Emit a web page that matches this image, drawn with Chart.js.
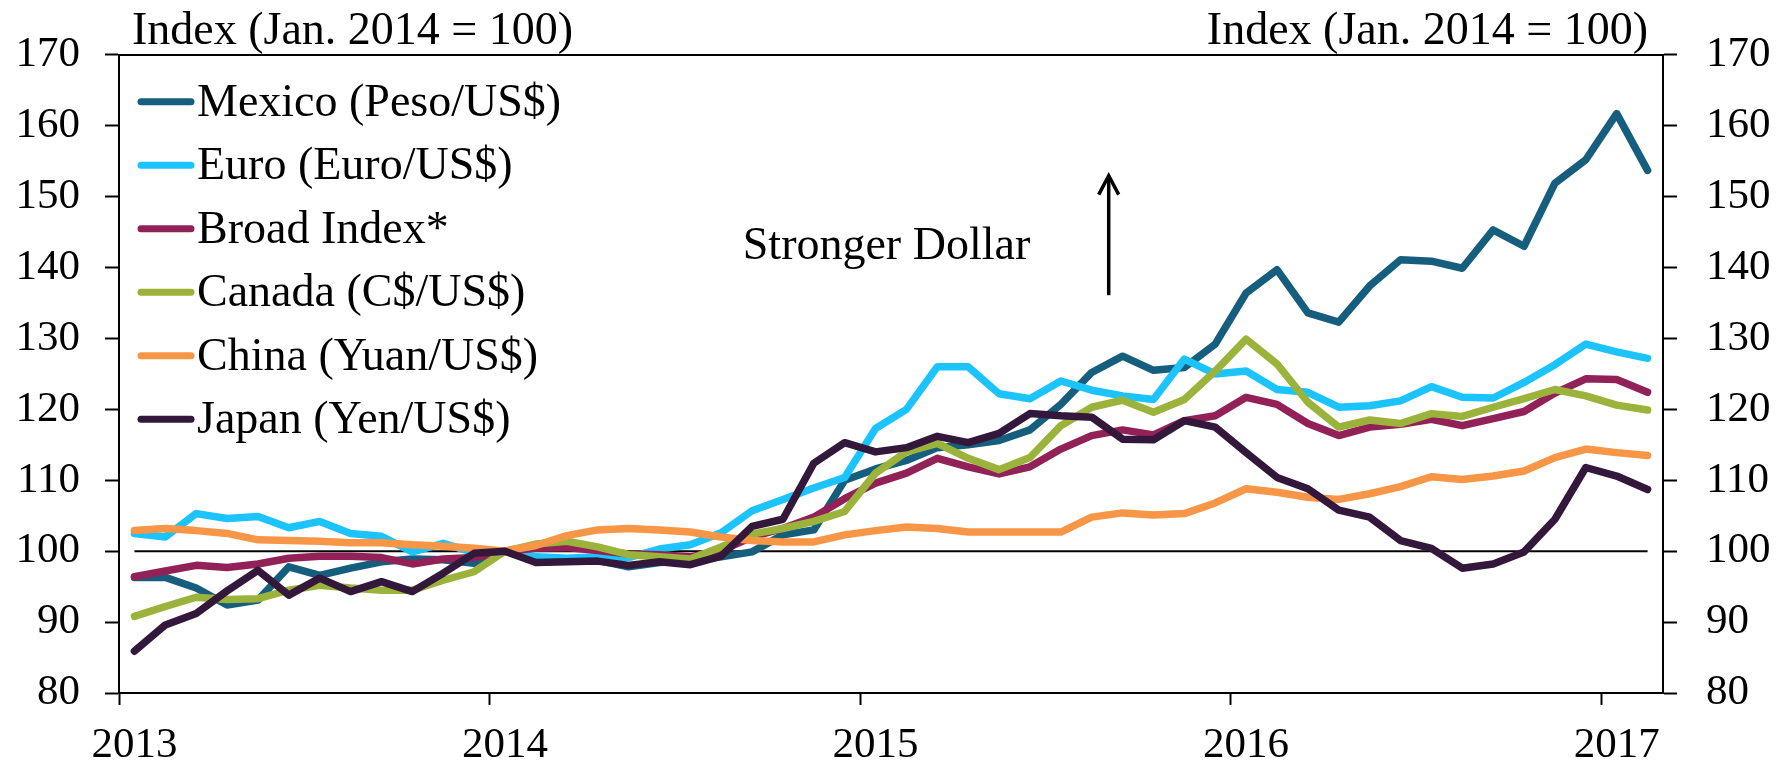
<!DOCTYPE html>
<html>
<head>
<meta charset="utf-8">
<title>Dollar exchange rates</title>
<script src="https://cdn.jsdelivr.net/npm/chart.js@4.4.1/dist/chart.umd.min.js"></script>
<style>
  html, body { margin: 0; padding: 0; background: #fff; }
</style>
</head>
<body>
<canvas id="fxChart" width="1785" height="766"></canvas>
<script>
// Monthly categories, Jan 2013 - Feb 2017
const months = [
  "Jan 2013", "Feb 2013", "Mar 2013", "Apr 2013", "May 2013", "Jun 2013",
  "Jul 2013", "Aug 2013", "Sep 2013", "Oct 2013", "Nov 2013", "Dec 2013",
  "Jan 2014", "Feb 2014", "Mar 2014", "Apr 2014", "May 2014", "Jun 2014",
  "Jul 2014", "Aug 2014", "Sep 2014", "Oct 2014", "Nov 2014", "Dec 2014",
  "Jan 2015", "Feb 2015", "Mar 2015", "Apr 2015", "May 2015", "Jun 2015",
  "Jul 2015", "Aug 2015", "Sep 2015", "Oct 2015", "Nov 2015", "Dec 2015",
  "Jan 2016", "Feb 2016", "Mar 2016", "Apr 2016", "May 2016", "Jun 2016",
  "Jul 2016", "Aug 2016", "Sep 2016", "Oct 2016", "Nov 2016", "Dec 2016",
  "Jan 2017", "Feb 2017"
];

// Index values (Jan. 2014 = 100)
const mexico = [
  96.3, 96.3, 94.8, 92.4, 93.1, 97.8, 96.6, 97.6, 98.5, 98.9, 98.8, 98.3,
  100, 98.7, 98.6, 98.7, 97.8, 98.4, 98.6, 99.2, 99.9, 102.3, 103.0, 110.0,
  111.6, 112.8, 114.6, 115.0, 115.6, 117.1, 120.7, 125.2, 127.5, 125.5, 125.9, 129.2,
  136.4, 139.7, 133.6, 132.3, 137.4, 141.1, 140.9, 139.9, 145.3, 143.0, 151.9, 155.2,
  161.7, 153.7
];
const euro = [
  102.5, 102.0, 105.3, 104.6, 104.9, 103.3, 104.2, 102.5, 102.1, 99.9, 101.1, 99.8,
  100, 99.2, 99.0, 99.2, 99.1, 100.3, 100.9, 102.6, 105.7, 107.3, 108.9, 110.4,
  117.3, 120.0, 126.0, 126.0, 122.2, 121.5, 124.0, 122.7, 121.9, 121.4, 127.1, 125.0,
  125.4, 122.8, 122.4, 120.3, 120.5, 121.2, 123.2, 121.7, 121.6, 123.8, 126.3, 129.2,
  128.1, 127.2
];
const broad = [
  96.4, 97.2, 98.0, 97.7, 98.2, 99.0, 99.3, 99.3, 99.1, 98.2, 98.9, 99.1,
  100, 100.4, 100.5, 100.1, 99.6, 99.5, 99.2, 100.1, 102.0, 103.2, 104.8, 107.4,
  109.6, 111.0, 113.1, 111.9, 110.9, 111.9, 114.4, 116.3, 117.1, 116.4, 118.4, 119.1,
  121.7, 120.7, 118.0, 116.3, 117.5, 117.9, 118.6, 117.7, 118.7, 119.7, 122.3, 124.3,
  124.2, 122.4
];
const canada = [
  90.8, 92.2, 93.5, 93.2, 93.3, 94.5, 95.2, 94.8, 94.5, 94.5, 95.9, 97.1,
  100, 101.0, 101.4, 100.6, 99.5, 99.2, 98.9, 100.6, 102.4, 103.2, 104.2, 105.6,
  111.0, 114.0, 115.2, 113.1, 111.5, 113.2, 117.7, 120.3, 121.3, 119.6, 121.4, 125.4,
  129.9, 126.4, 121.0, 117.5, 118.5, 118.0, 119.4, 119.0, 120.3, 121.5, 122.8, 121.9,
  120.6, 119.9
];
const china = [
  102.9, 103.2, 102.9, 102.5, 101.6, 101.5, 101.4, 101.2, 101.2, 100.9, 100.7, 100.4,
  100, 100.8, 102.2, 103.0, 103.2, 103.0, 102.7, 102.0, 101.5, 101.3, 101.3, 102.3,
  102.9, 103.4, 103.2, 102.7, 102.7, 102.7, 102.7, 104.8, 105.4, 105.1, 105.3, 106.8,
  108.8, 108.3, 107.6, 107.3, 108.1, 109.1, 110.5, 110.1, 110.6, 111.3, 113.2, 114.4,
  113.9, 113.5
];
const japan = [
  85.9, 89.6, 91.2, 94.4, 97.3, 93.8, 96.2, 94.3, 95.7, 94.3, 96.9, 99.7,
  100, 98.4, 98.5, 98.6, 98.0, 98.5, 98.1, 99.3, 103.5, 104.5, 112.4, 115.3,
  114.0, 114.6, 116.2, 115.3, 116.6, 119.4, 119.1, 118.9, 115.8, 115.7, 118.4, 117.5,
  113.9, 110.4, 108.8, 105.8, 104.8, 101.5, 100.4, 97.6, 98.2, 99.9, 104.5, 111.8,
  110.6, 108.7
];

const yTicks = [80, 90, 100, 110, 120, 130, 140, 150, 160, 170];
const baseValue = 100;
const axisTitle = "Index (Jan. 2014 = 100)";
const noteText = "Stronger Dollar";

const FONT = "'Liberation Serif', 'Times New Roman', serif";

const seriesList = [
  { label: "Mexico (Peso/US$)", data: mexico, color: "#165E7E" },
  { label: "Euro (Euro/US$)", data: euro, color: "#1BC3FF" },
  { label: "Broad Index*", data: broad, color: "#912157" },
  { label: "Canada (C$/US$)", data: canada, color: "#9BB33B" },
  { label: "China (Yuan/US$)", data: china, color: "#F79646" },
  { label: "Japan (Yen/US$)", data: japan, color: "#33183C" },
];

// Horizontal reference line at 100, from first to last month
const baselinePlugin = {
  id: "baseline",
  beforeDatasetsDraw(chart) {
    const { ctx, scales } = chart;
    const y = scales.y.getPixelForValue(baseValue);
    ctx.save();
    ctx.strokeStyle = "#000";
    ctx.lineWidth = 2;
    ctx.beginPath();
    ctx.moveTo(scales.x.getPixelForValue(0), y);
    ctx.lineTo(scales.x.getPixelForValue(months.length - 1), y);
    ctx.stroke();
    ctx.restore();
  },
};

// Axis titles, annotation and arrow
const textPlugin = {
  id: "texts",
  afterDraw(chart) {
    const { ctx, chartArea, scales } = chart;
    ctx.save();
    ctx.fillStyle = "#000";
    ctx.font = "46px " + FONT;
    ctx.textBaseline = "alphabetic";

    ctx.textAlign = "left";
    ctx.fillText(axisTitle, chartArea.left + 13, chartArea.top - 11);
    ctx.textAlign = "right";
    ctx.fillText(axisTitle, chartArea.right - 15, chartArea.top - 11);

    ctx.textAlign = "left";
    ctx.fillText(noteText, scales.x.getPixelForValue(19.7), scales.y.getPixelForValue(141.2));

    // arrow pointing up
    const ax = scales.x.getPixelForValue(31.55);
    const top = scales.y.getPixelForValue(153.1);
    const bottom = scales.y.getPixelForValue(136.1);
    ctx.strokeStyle = "#000";
    ctx.lineWidth = 3.5;
    ctx.beginPath();
    ctx.moveTo(ax, bottom);
    ctx.lineTo(ax, top + 1);
    ctx.stroke();
    ctx.beginPath();
    ctx.moveTo(ax - 10, top + 20);
    ctx.lineTo(ax, top + 1);
    ctx.lineTo(ax + 10, top + 20);
    ctx.stroke();
    ctx.restore();
  },
};

// Legend inside the plot, top-left
const legendPlugin = {
  id: "insideLegend",
  afterDraw(chart) {
    const { ctx, chartArea } = chart;
    ctx.save();
    ctx.font = "46px " + FONT;
    ctx.textAlign = "left";
    ctx.textBaseline = "alphabetic";
    chart.data.datasets.forEach((ds, i) => {
      const y = chartArea.top + 47 + i * 63.5;
      ctx.strokeStyle = ds.borderColor;
      ctx.lineWidth = 7;
      ctx.lineCap = "round";
      ctx.beginPath();
      ctx.moveTo(chartArea.left + 22, y);
      ctx.lineTo(chartArea.left + 72, y);
      ctx.stroke();
      ctx.fillStyle = "#000";
      ctx.fillText(ds.label, chartArea.left + 78, y + 14);
    });
    ctx.restore();
  },
};

const yAxisBase = (position, width, pad) => ({
  position: position,
  min: 80,
  max: 170,
  afterBuildTicks: (scale) => {
    scale.ticks = yTicks.map((v) => ({ value: v }));
  },
  grid: {
    drawOnChartArea: false,
    tickLength: 14,
    tickWidth: 2,
    tickColor: "#000",
  },
  border: { display: true, color: "#000", width: 2 },
  ticks: {
    color: "#000",
    font: { family: FONT, size: 43 },
    padding: pad,
  },
  afterFit: (scale) => {
    scale.width = width;
  },
});

const fxChart = new Chart(document.getElementById("fxChart"), {
  type: "line",
  data: {
    labels: months,
    datasets: seriesList.map((s, i) => ({
      label: s.label,
      data: s.data,
      borderColor: s.color,
      backgroundColor: s.color,
      order: seriesList.length - 1 - i,
      xAxisID: "x",
      yAxisID: "y",
    })),
  },
  options: {
    responsive: false,
    animation: false,
    layout: { padding: 0 },
    elements: {
      point: { radius: 0, hoverRadius: 0 },
      line: {
        tension: 0,
        borderWidth: 7.5,
        borderCapStyle: "round",
        borderJoinStyle: "round",
        fill: false,
      },
    },
    plugins: {
      legend: { display: false },
      tooltip: { enabled: false },
    },
    scales: {
      x: {
        type: "category",
        position: "bottom",
        offset: true,
        grid: {
          offset: true,
          drawOnChartArea: false,
          tickLength: 12,
          tickWidth: 2,
          tickColor: (c) => (c.index % 12 === 0 ? "#000" : "rgba(0,0,0,0)"),
        },
        border: { display: true, color: "#000", width: 2 },
        ticks: {
          autoSkip: false,
          maxRotation: 0,
          minRotation: 0,
          color: "#000",
          font: { family: FONT, size: 43 },
          padding: 15,
          callback: (value, index) => (index % 12 === 0 ? months[index].slice(4) : ""),
        },
        afterFit: (scale) => {
          scale.height = 73;
        },
      },
      xTop: {
        type: "category",
        position: "top",
        offset: true,
        grid: { display: false, drawOnChartArea: false, drawTicks: false },
        border: { display: true, color: "#000", width: 2 },
        ticks: { display: false },
        afterFit: (scale) => {
          scale.height = 53;
        },
      },
      y: yAxisBase("left", 119, 25),
      y2: yAxisBase("right", 122, 29),
    },
  },
  plugins: [baselinePlugin, textPlugin, legendPlugin],
});
</script>
</body>
</html>
